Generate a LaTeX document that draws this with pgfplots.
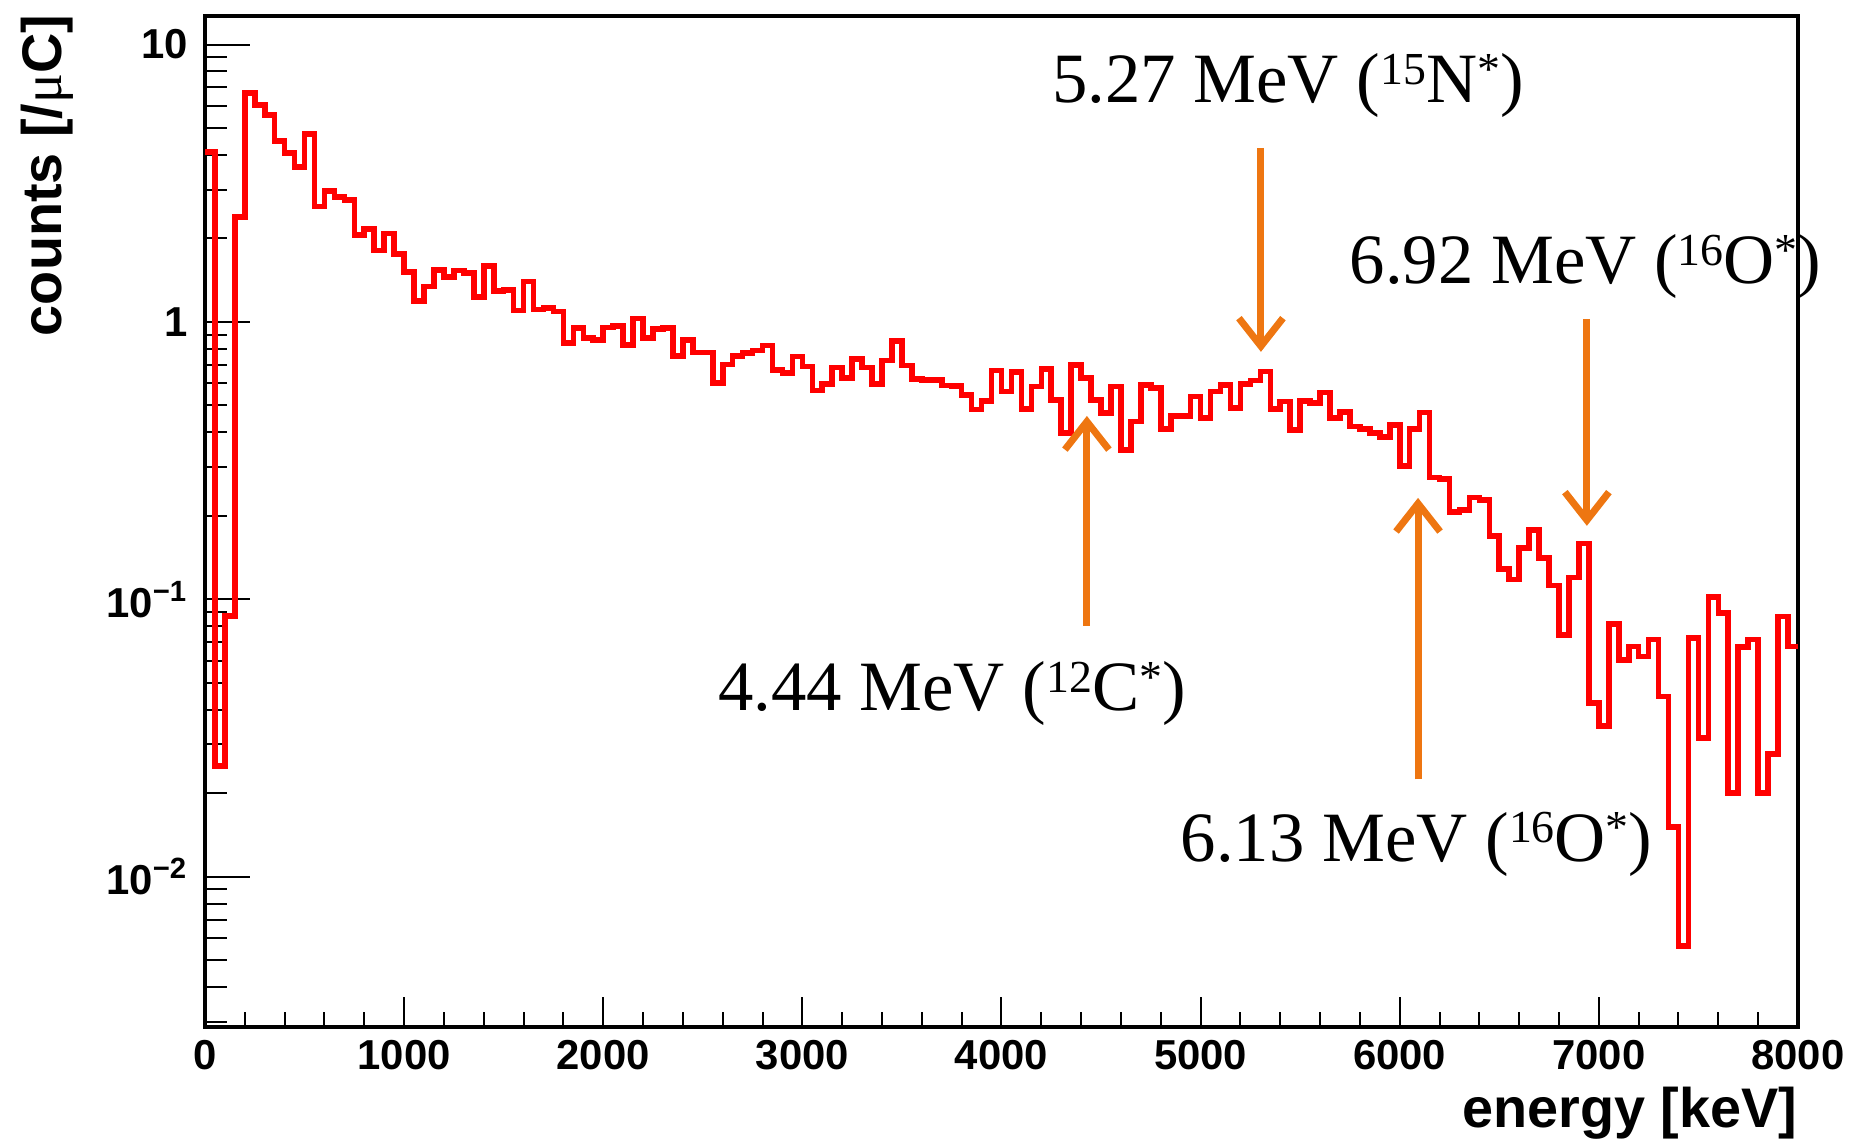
\documentclass[border=0pt]{standalone}
\usepackage{fontspec}
\setmainfont{Liberation Serif}
\setsansfont{Liberation Sans}
\usepackage{pgfplots}
\pgfplotsset{compat=1.18}
\usetikzlibrary{arrows.meta}
\definecolor{histred}{RGB}{255,0,0}
\definecolor{arroworange}{RGB}{238,118,17}
\newcommand{\sups}[1]{\raisebox{4.6bp}{\fontsize{11.5}{12}\selectfont #1}}
\begin{document}
\begin{tikzpicture}
\begin{axis}[
  scale only axis, width=398.25bp, height=252.75bp,
  xmin=0, xmax=8000, ymode=log, ymin=0.00287, ymax=12.67,
  clip mode=individual,
  axis line style={line width=0.9bp},
  tick align=inside, xtick pos=left, ytick pos=left,
  xtick={0,1000,2000,3000,4000,5000,6000,7000,8000},
  xticklabels={0,1000,2000,3000,4000,5000,6000,7000,8000},
  minor x tick num=4,
  ytick={0.01,0.1,1,10},
  yticklabels={10\textsuperscript{−2},10\textsuperscript{−1},1,10},
  minor ytick={0.003,0.004,0.005,0.006,0.007,0.008,0.009,0.02,0.03,0.04,0.05,0.06,0.07,0.08,0.09,0.2,0.3,0.4,0.5,0.6,0.7,0.8,0.9,2,3,4,5,6,7,8,9},
  xtick style={black, line width=0.5bp, /pgfplots/major tick length=7.5bp, /pgfplots/minor tick length=3.75bp},
  ytick style={black, line width=0.5bp, /pgfplots/major tick length=11.25bp, /pgfplots/minor tick length=5.6bp},
  ticklabel style={font=\sffamily\bfseries\fontsize{10.5}{12}\selectfont, inner sep=0pt},
  xticklabel style={anchor=base, yshift=-10.6bp},
  yticklabel style={anchor=east, xshift=-4bp},
]
\addplot[const plot mark left, histred, line width=1.4bp, line join=miter] table {
x y
0 4.1
50 0.025
100 0.087
150 2.39
200 6.68
250 6.06
300 5.56
350 4.48
400 4.06
450 3.61
500 4.75
550 2.61
600 2.97
650 2.82
700 2.75
750 2.06
800 2.16
850 1.81
900 2.08
950 1.76
1000 1.51
1050 1.19
1100 1.34
1150 1.54
1200 1.45
1250 1.53
1300 1.50
1350 1.23
1400 1.59
1450 1.29
1500 1.30
1550 1.10
1600 1.40
1650 1.11
1700 1.12
1750 1.09
1800 0.84
1850 0.95
1900 0.873
1950 0.861
2000 0.954
2050 0.967
2100 0.826
2150 1.03
2200 0.873
2250 0.944
2300 0.95
2350 0.754
2400 0.861
2450 0.776
2500 0.776
2550 0.601
2600 0.703
2650 0.754
2700 0.771
2750 0.788
2800 0.822
2850 0.671
2900 0.653
2950 0.750
3000 0.690
3050 0.566
3100 0.596
3150 0.685
3200 0.627
3250 0.734
3300 0.685
3350 0.596
3400 0.726
3450 0.854
3500 0.696
3550 0.623
3600 0.618
3650 0.618
3700 0.590
3750 0.588
3800 0.546
3850 0.484
3900 0.519
3950 0.668
4000 0.561
4050 0.659
4100 0.486
4150 0.585
4200 0.675
4250 0.524
4300 0.397
4350 0.700
4400 0.627
4450 0.524
4500 0.469
4550 0.585
4600 0.346
4650 0.437
4700 0.593
4750 0.577
4800 0.410
4850 0.458
4900 0.458
4950 0.538
5000 0.450
5050 0.561
5100 0.593
5150 0.489
5200 0.598
5250 0.615
5300 0.662
5350 0.485
5400 0.516
5450 0.408
5500 0.519
5550 0.509
5600 0.556
5650 0.450
5700 0.473
5750 0.420
5800 0.410
5850 0.397
5900 0.384
5950 0.425
6000 0.303
6050 0.410
6100 0.471
6150 0.275
6200 0.272
6250 0.206
6300 0.210
6350 0.233
6400 0.228
6450 0.1695
6500 0.1285
6550 0.118
6600 0.153
6650 0.178
6700 0.141
6750 0.112
6800 0.0745
6850 0.120
6900 0.159
6950 0.0423
7000 0.035
7050 0.0814
7100 0.0605
7150 0.0676
7200 0.0622
7250 0.0715
7300 0.0446
7350 0.0151
7400 0.00561
7450 0.0725
7500 0.0316
7550 0.102
7600 0.0891
7650 0.0200
7700 0.0673
7750 0.0715
7800 0.0200
7850 0.0277
7900 0.0867
7950 0.0676
8000 0.0676
};
% arrows
\draw[arroworange, line width=1.75bp, -{Straight Barb[length=7bp,width=11bp]}] (axis cs:5303,4.24) -- (axis cs:5303,0.78);
\draw[arroworange, line width=1.75bp, -{Straight Barb[length=7bp,width=11bp]}] (axis cs:6940,1.025) -- (axis cs:6940,0.184);
\draw[arroworange, line width=1.75bp, -{Straight Barb[length=7bp,width=11bp]}] (axis cs:4429,0.0803) -- (axis cs:4429,0.458);
\draw[arroworange, line width=1.75bp, -{Straight Barb[length=7bp,width=11bp]}] (axis cs:6092,0.0224) -- (axis cs:6092,0.232);
% annotations
\node[font=\fontsize{17.75}{20}\selectfont, anchor=base, inner sep=0pt] at (axis cs:5439,6.16) {5.27 MeV (\sups{15}N\sups{*})};
\node[font=\fontsize{17.75}{20}\selectfont, anchor=base, inner sep=0pt] at (axis cs:6933,1.37) {6.92 MeV (\sups{16}O\sups{*})};
\node[font=\fontsize{17.75}{20}\selectfont, anchor=base, inner sep=0pt] at (axis cs:3751,0.0396) {4.44 MeV (\sups{12}C\sups{*})};
\node[font=\fontsize{17.75}{20}\selectfont, anchor=base, inner sep=0pt] at (axis cs:6085,0.01137) {6.13 MeV (\sups{16}O\sups{*})};
% axis titles
\node[font=\sffamily\bfseries\fontsize{14}{16}\selectfont, anchor=base east, inner sep=0pt] at ([yshift=-25bp]rel axis cs:1,0) {energy [keV]};
\node[font=\sffamily\bfseries\fontsize{14}{16}\selectfont, rotate=90, anchor=east, inner sep=0pt] at ([xshift=-39.5bp, yshift=0.5bp]rel axis cs:0,1) {counts [/{\rmfamily\mdseries μ}C]};
\end{axis}
\pgfresetboundingbox
\useasboundingbox (-51.25bp,-28.75bp) rectangle (411.75bp,256.75bp);
\end{tikzpicture}
\end{document}
